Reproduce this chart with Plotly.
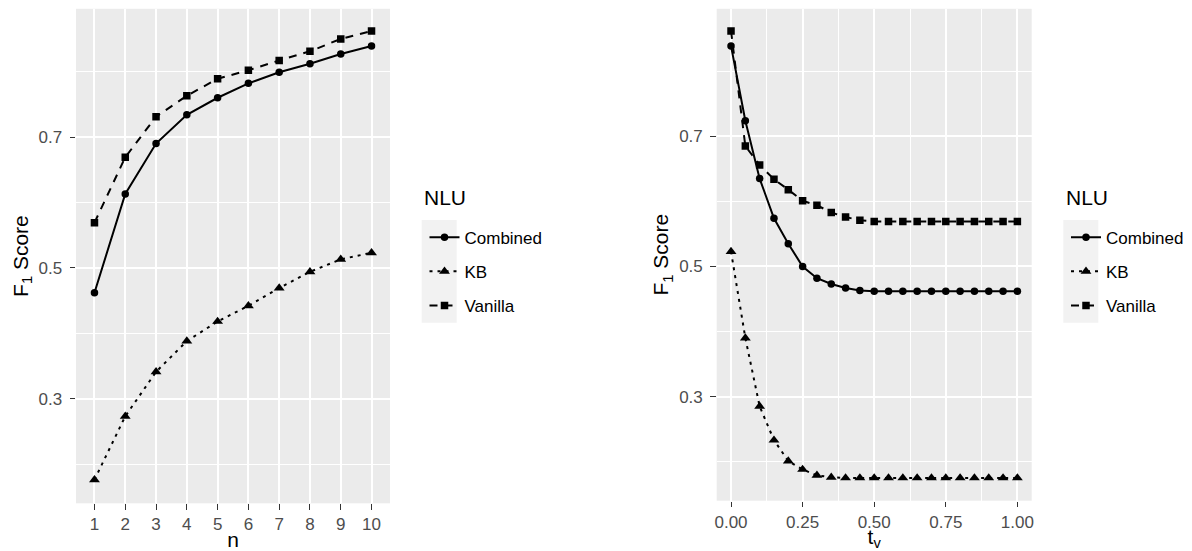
import plotly.graph_objects as go

W, H = 1192, 551

# ---------------- data ----------------
n_vals = [1, 2, 3, 4, 5, 6, 7, 8, 9, 10]
left_combined = [0.462, 0.613, 0.690, 0.734, 0.760, 0.782, 0.799, 0.812, 0.827, 0.839]
left_kb = [0.176, 0.273, 0.341, 0.388, 0.418, 0.442, 0.469, 0.494, 0.513, 0.523]
left_vanilla = [0.569, 0.669, 0.731, 0.763, 0.789, 0.802, 0.817, 0.831, 0.850, 0.862]

t_vals = [0.00, 0.05, 0.10, 0.15, 0.20, 0.25, 0.30, 0.35, 0.40, 0.45, 0.50,
          0.55, 0.60, 0.65, 0.70, 0.75, 0.80, 0.85, 0.90, 0.95, 1.00]
right_combined = [0.839, 0.724, 0.635, 0.574, 0.535, 0.500, 0.482, 0.473, 0.467, 0.463, 0.462,
                  0.462, 0.462, 0.462, 0.462, 0.462, 0.462, 0.462, 0.462, 0.462, 0.462]
right_kb = [0.523, 0.390, 0.285, 0.233, 0.201, 0.188, 0.179, 0.176, 0.175, 0.175, 0.175,
            0.175, 0.175, 0.175, 0.175, 0.175, 0.175, 0.175, 0.175, 0.175, 0.175]
right_vanilla = [0.862, 0.685, 0.656, 0.634, 0.618, 0.601, 0.594, 0.583, 0.576, 0.571, 0.569,
                 0.569, 0.569, 0.569, 0.569, 0.569, 0.569, 0.569, 0.569, 0.569, 0.569]

series_names = ["Combined", "KB", "Vanilla"]
legend_title = "NLU"
y_ticks = [0.3, 0.5, 0.7]
y_tick_text = ["0.3", "0.5", "0.7"]
y_minor = [0.2, 0.4, 0.6, 0.8]
t_ticks = [0.0, 0.25, 0.5, 0.75, 1.0]
t_tick_text = ["0.00", "0.25", "0.50", "0.75", "1.00"]
t_minor = [0.125, 0.375, 0.625, 0.875]

# ---------------- styles ----------------
FONT = "Liberation Sans, Arial, sans-serif"
styles = {
    "Combined": dict(dash="solid", symbol="circle", size=7.5),
    "KB": dict(dash="3px,5px", symbol="triangle-up", size=9.5),
    "Vanilla": dict(dash="8px,7px", symbol="square", size=7.5),
}

fig = go.Figure()

left_data = {"Combined": left_combined, "KB": left_kb, "Vanilla": left_vanilla}
right_data = {"Combined": right_combined, "KB": right_kb, "Vanilla": right_vanilla}

for name in series_names:
    s = styles[name]
    fig.add_trace(go.Scatter(
        x=n_vals, y=left_data[name], mode="lines+markers", name=name,
        line=dict(color="black", width=2, dash=s["dash"]),
        marker=dict(symbol=s["symbol"], size=s["size"], color="black"),
        xaxis="x", yaxis="y", legend="legend", legendgroup="L" + name,
    ))
for name in series_names:
    s = styles[name]
    fig.add_trace(go.Scatter(
        x=t_vals, y=right_data[name], mode="lines+markers", name=name,
        line=dict(color="black", width=2, dash=s["dash"]),
        marker=dict(symbol=s["symbol"], size=s["size"], color="black"),
        xaxis="x2", yaxis="y2", legend="legend2", legendgroup="R" + name,
    ))

tickfont = dict(family=FONT, size=17, color="#4D4D4D")
titlefont = dict(family=FONT, size=21, color="black")

common_axis = dict(
    ticks="outside", ticklen=5.5, tickwidth=1.1, tickcolor="#333333",
    tickfont=tickfont, showgrid=True, gridcolor="white", gridwidth=2,
    zeroline=False, showline=False, automargin=False,
)

def yaxis_cfg(top_px, bottom_px, anchor):
    return dict(
        common_axis, range=[0.140, 0.896],
        domain=[(H - bottom_px) / H, (H - top_px) / H],
        tickvals=y_ticks, ticktext=y_tick_text, ticklabelstandoff=4,
        minor=dict(tickvals=y_minor, showgrid=True, gridcolor="white", gridwidth=1, ticks=""),
        anchor=anchor,
        title=dict(text="F<sub>1</sub> Score", font=titlefont, standoff=4),
    )

legend_common = dict(
    xanchor="left", yanchor="top", bgcolor="rgba(0,0,0,0)",
    font=dict(family=FONT, size=17, color="black"),
    tracegroupgap=9, itemwidth=30,
)

fig.update_layout(
    width=W, height=H,
    margin=dict(l=0, r=0, t=0, b=0),
    paper_bgcolor="white", plot_bgcolor="#EBEBEB",
    font=dict(family=FONT, color="black"),
    xaxis=dict(common_axis, domain=[76 / W, 390 / W], range=[0.4, 10.6],
               tickvals=n_vals, ticktext=[str(v) for v in n_vals], anchor="y",
               title=dict(text="n", font=titlefont, standoff=2)),
    yaxis=yaxis_cfg(8.8, 503.3, "x"),
    xaxis2=dict(common_axis, domain=[716.7 / W, 1031.7 / W], range=[-0.05, 1.05],
                tickvals=t_ticks, ticktext=t_tick_text, anchor="y2",
                minor=dict(tickvals=t_minor, showgrid=True, gridcolor="white", gridwidth=1, ticks=""),
                title=dict(text="t<sub>v</sub>", font=titlefont, standoff=2)),
    yaxis2=yaxis_cfg(8.8, 500.7, "x2"),
    legend=dict(legend_common, x=424.5 / W, y=1 - 219.7 / H),
    legend2=dict(legend_common, x=1066 / W, y=1 - 219.7 / H),
    showlegend=True,
)

# legend titles and grey legend-key backgrounds (ggplot style)
for x0 in (421.7, 1063.3):
    fig.add_shape(type="rect", xref="paper", yref="paper",
                  x0=x0 / W, x1=(x0 + 35) / W,
                  y0=1 - 322.7 / H, y1=1 - 220 / H,
                  fillcolor="#F2F2F2", line=dict(width=0), layer="below")
    fig.add_annotation(text=legend_title, xref="paper", yref="paper",
                       x=(x0 + 0.5) / W, y=1 - 197 / H, xanchor="left", yanchor="middle",
                       showarrow=False, font=dict(family=FONT, size=21, color="black"))

fig.write_html("out.html", post_script="document.body.style.margin='0';",
               config={"displayModeBar": False})
